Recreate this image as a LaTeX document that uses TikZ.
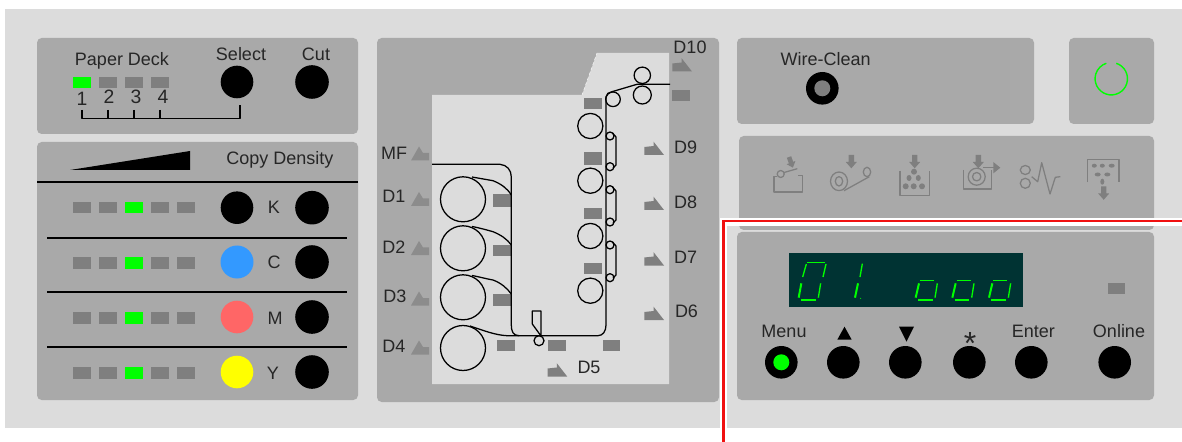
\documentclass[tikz,border=0pt]{standalone}
\usepackage{fontspec}
\setmainfont{Liberation Sans}
\definecolor{bgray}{HTML}{DCDCDC}
\definecolor{panelgray}{HTML}{A9A9A9}
\definecolor{dgray}{HTML}{7F7F7F}
\definecolor{lgray}{HTML}{8C8C8C}
\definecolor{ledgreen}{HTML}{00FF00}
\definecolor{dispbg}{HTML}{003333}
\definecolor{kblue}{HTML}{3399FF}
\definecolor{kred}{HTML}{FF6666}
\definecolor{kyellow}{HTML}{FFFF00}
\definecolor{frame}{HTML}{F01010}
\newcommand\ledbox[3][dgray]{\fill[#1] (#2,#3) rectangle ++(18,11.5);}
\newcommand\senbox[4]{\fill[dgray] (#1,#2) rectangle (#3,#4);}
\newcommand\btn[4][black]{\fill[#1] (#2,#3) circle (#4);}
\newcommand\dnarr[2]{\fill[dgray] (#1-2.7,#2) -- ++(5.4,0) -- ++(0,7) -- ++(2.8,0) -- ++(-5.5,6.3) -- ++(-5.5,-6.3) -- ++(2.8,0) -- cycle;}
\newcommand\lefttri[2]{\fill[lgray] (#1,#2) -- ++(8,-14) -- ++(4,6.5) -- ++(6,0) -- ++(0,7.5) -- cycle;}
\newcommand\righttri[2]{\fill[dgray] (#1,#2) -- ++(19.7,0) -- ++(-10.4,-13.3) -- ++(0,4.3) -- ++(-9.3,1) -- cycle;}
\tikzset{
  x=0.75pt,y=-0.75pt,
  panel/.style={fill=panelgray,rounded corners=3.5pt},
  lbl/.style={inner sep=0pt,anchor=base,font=\fontsize{13.5}{16}\selectfont,text=black!85},
  numlbl/.style={lbl,font=\fontsize{14.5}{16}\selectfont},
  wire/.style={draw=black,line width=0.95pt,line join=round},
  thin1/.style={draw=black,line width=0.8pt,line join=round},
  rule/.style={draw=black,line width=1.05pt},
  iconl/.style={draw=dgray,line width=0.95pt,line join=round},
  segU/.style={draw=ledgreen,line width=1pt},
  segL/.style={draw=ledgreen,line width=1.5pt},
}
\begin{document}
\begin{tikzpicture}
\useasboundingbox (0,0) rectangle (1182,442);
\fill[white] (0,0) rectangle (1182,442);
\fill[bgray] (5,9) rectangle (1182,428);
% panels
\path[panel] (37,38) rectangle (358,134);
\path[panel] (37,142) rectangle (358,400);
\path[panel] (377,38) rectangle (719,402);
\path[panel] (737,38) rectangle (1034,124);
\path[panel] (1069,38) rectangle (1154,124);
\path[panel] (739,136) rectangle (1154,230);
\path[panel] (737,232) rectangle (1154,400);
% frame of the highlighted area
\fill[white] (720,218) rectangle (1182,226);
\fill[white] (720,218) rectangle (727,442);
\coordinate (frameA) at (1182,221);
\coordinate (frameB) at (723.3,221);
\coordinate (frameC) at (723.3,442);
\draw[frame,line width=1.9pt,line join=miter] (frameA) -- (frameB) -- (frameC);

% Paper deck
\node[lbl] (paperdeck) at (122,66) {Paper Deck};
\node[lbl] (select) at (241,61) {Select};
\node[lbl] (cut) at (316,61) {Cut};
\ledbox[ledgreen]{73}{77}\ledbox{99}{77}\ledbox{125}{77}\ledbox{151}{77}
\node[numlbl] (n1) at (82,105.3) {1};
\node[numlbl] (n2) at (109,103.3) {2};
\node[numlbl] (n3) at (136,103.3) {3};
\node[numlbl] (n4) at (163,103.3) {4};
\btn{237}{82}{16.3}
\btn{312}{82}{16.8}
\coordinate (br1) at (82,110);
\coordinate (br2) at (108,110);
\coordinate (br3) at (134,110);
\coordinate (br4) at (160,110);
\coordinate (br5) at (240,105);
\draw[thin1] (br1) -- (82,118.5) -- (240,118.5) -- (br5);
\draw[thin1] (br2) -- (108,118.5) (br3) -- (134,118.5) (br4) -- (160,118.5);

% Copy density
\fill[black] (70,170) -- (190,151) -- (190,170) -- cycle;
\node[lbl] (copydensity) at (280,165) {Copy Density};
\draw[rule] (37,182) -- (358,182);
\draw[rule] (47,238) -- (347,238);
\draw[rule] (47,292) -- (347,292);
\draw[rule] (47,347) -- (347,347);
\foreach \y in {202,257,312,367}{
  \ledbox{73}{\y}\ledbox{99}{\y}\ledbox[ledgreen]{125}{\y}\ledbox{151}{\y}\ledbox{177}{\y}
}
\btn{237}{207.7}{16.3}\btn{312}{207.7}{16.8}
\btn[kblue]{237}{262}{16.5}\btn{312}{262}{16.8}
\btn[kred]{237}{317}{16.3}\btn{312}{317}{16.8}
\btn[kyellow]{237}{372}{16.3}\btn{312}{372}{16.8}
\node[lbl] (kk) at (274,214) {K};
\node[lbl] (kc) at (274,268) {C};
\node[lbl] (km) at (275,324) {M};
\node[lbl] (ky) at (273,379) {Y};

% Paper path body
\fill[bgray] (432,95) -- (582,95) -- (597,53) -- (669,53) -- (669,384) -- (432,384) -- cycle;
\draw[white,line width=0.3pt,dash pattern=on 2pt off 2pt] (582,95) -- (597,53);
\senbox{672.3}{90.3}{690}{101.3}
\senbox{584}{98.3}{602}{109.3}
\senbox{584}{152.3}{602}{165}
\senbox{584}{207.7}{602}{219}
\senbox{584}{263.3}{602}{274.3}
\senbox{492.7}{194.3}{511}{207.3}
\senbox{492.7}{245}{511}{256.3}
\senbox{492.7}{294}{511}{305.7}
\senbox{497.3}{340}{515.3}{351.3}
\senbox{548}{340}{566}{351.3}
\senbox{603.3}{340}{620}{351.3}
\foreach \y in {199.3,248.3,297.3,348}{\draw[wire] (463,\y) circle (22.5);}
\foreach \y in {126,180.7,236,290.7}{\draw[wire] (590.3,\y) circle (12.6);}
\foreach \y in {136,166.7,189.7,222,245,277.7}{\draw[wire] (610,\y) circle (4);}
\draw[wire] (642.3,75.3) circle (8.2);
\draw[wire] (642.3,95) circle (9);
\draw[wire] (613,99.3) circle (7.3);
\draw[wire] (539,340.7) circle (5);
\draw[wire] (432,164.3) -- (500,164.3) .. controls (507,165) and (511.3,170) .. (511.3,177) -- (511.3,325) .. controls (511.3,331) and (513,335.7) .. (519,335.7) -- (598,335.7) .. controls (603,335.7) and (606,331) .. (606,325) -- (606,97) .. controls (606,94) and (609,92) .. (612,91.7) -- (637,84.3) -- (670,84.3);
\draw[wire] (472,177) -- (493,180.7) .. controls (501,184) and (507,188) .. (511.3,195);
\draw[wire] (472,226.5) .. controls (480,228) and (487,230) .. (493,231.7) .. controls (501,235) and (507,239) .. (511.3,245);
\draw[wire] (472,275.5) .. controls (480,277) and (487,279) .. (493,280) .. controls (501,283) and (507,288) .. (511.3,294);
\draw[wire] (470,326) .. controls (485,331) and (495,335) .. (507,335.7) -- (519,335.7);
\draw[wire] (532.3,311) -- (541,311) -- (541,336) -- (532.3,324) -- cycle;
\draw[wire] (612.5,133) -- (616,137) -- (616,165) -- (613,168);
\draw[wire] (612.5,187) -- (616,191) -- (616,220) -- (613,223);
\draw[wire] (612.5,242) -- (616,246) -- (616,275) -- (613,278);
% direction marks
\lefttri{411}{160.5}\lefttri{411}{206}\lefttri{411}{255}\lefttri{411}{305.5}\lefttri{411}{354.5}
\righttri{644.3}{155}\righttri{644.3}{210}\righttri{644.3}{265.5}\righttri{644.3}{320}\righttri{672.3}{71.5}\righttri{547.5}{376.5}
\node[lbl] (mf) at (394,159.3) {MF};
\node[lbl] (d1) at (394,202.7) {D1};
\node[lbl] (d2) at (394,253.3) {D2};
\node[lbl] (d3) at (395,302) {D3};
\node[lbl] (d4) at (394,352.7) {D4};
\node[lbl] (d5) at (589,373) {D5};
\node[lbl] (d6) at (686.5,317.3) {D6};
\node[lbl] (d7) at (685.7,263.3) {D7};
\node[lbl] (d8) at (685.7,208.3) {D8};
\node[lbl] (d9) at (685.7,154) {D9};
\node[lbl] (d10) at (690,54) {D10};

% Wire clean and power
\node[lbl] (wireclean) at (825.7,66) {Wire-Clean};
\btn{822.3}{88.3}{16.3}
\btn[dgray]{822.3}{88.3}{8}
\draw[ledgreen,line width=1.05pt] (1116.3,63.3) arc[start angle=-72,end angle=252,radius=16.2];

% Status icons
\draw[iconl] (776.7,176.7) -- (774,176.7) -- (774,192) -- (802.3,192) -- (802.3,175.3) -- (798.3,175.3);
\draw[iconl] (780.7,174) circle (3.5);
\draw[iconl] (784,172.5) -- (797.3,168.7);
\begin{scope}[shift={(789,157)},rotate=20,scale=0.85]\dnarr{0}{0}\end{scope}
\dnarr{851.3}{155}
\draw[iconl] (839,181.3) ellipse (8.5 and 9.3);
\draw[iconl] (839,181.3) ellipse (3.7 and 4.7);
\draw[iconl] (867,172) ellipse (3.7 and 4.7);
\draw[iconl] (844,190.7) -- (869.3,176.7);
\dnarr{914.7}{155}
\draw[iconl] (900,170.7) -- (900,195.3) -- (929.3,195.3) -- (929.3,170.7);
\fill[dgray] (914,171.7) circle (3);
\fill[dgray] (909,178) ellipse (2.5 and 3);
\fill[dgray] (918.3,178) ellipse (2.5 and 3);
\fill[dgray] (905.7,186.3) circle (3);
\fill[dgray] (913.7,186.3) circle (3);
\fill[dgray] (922,186.3) circle (3);
\draw[iconl] (963.3,170) -- (963.3,189) -- (991.7,189) -- (991.7,170);
\draw[iconl] (976.7,176.7) circle (8.5);
\draw[iconl] (976.7,176.7) circle (4.2);
\draw[iconl,line width=1.1pt] (983,167.7) -- (994,167.7);
\fill[dgray] (993.3,162) -- (1000.3,167.7) -- (993.3,173.4) -- cycle;
\dnarr{978.3}{155}
\draw[iconl] (1025.3,170) ellipse (5 and 4.5);
\draw[iconl] (1025.3,183.3) ellipse (5 and 5);
\draw[iconl] (1031.7,176.7) -- (1037.7,181.7) -- (1041.7,162.7) -- (1050,194) -- (1055.3,177.3) -- (1060.3,176.7);
\draw[iconl] (1087.3,182.3) -- (1087.3,159.3) -- (1119,159.3) -- (1119,182.3);
\fill[dgray] (1094.3,165.7) ellipse (2.5 and 2);
\fill[dgray] (1102.3,165.7) ellipse (2.5 and 2);
\fill[dgray] (1111.7,165.7) ellipse (3 and 2);
\fill[dgray] (1097.7,174.5) ellipse (3 and 2);
\fill[dgray] (1107.3,174.5) ellipse (3 and 2);
\fill[dgray] (1102.3,181.7) ellipse (2 and 3);
\dnarr{1103.7}{186.5}

% Display
\fill[dispbg] (789.3,253) rectangle (1023,307);
\begin{scope}[shift={(720,215)},x=0.25pt,y=-0.25pt]
  % big 0
  \draw[segU] (262,142) -- (314,142);
  \draw[segU] (259,147) -- (248,186);
  \draw[segU] (318,147) -- (309,186);
  \draw[segL] (244,205) -- (236,248);
  \draw[segU] (302,205) -- (295,248);
  \draw[segL] (243,254) -- (288,254);
  % 1
  \draw[segU] (427,146) -- (420,186);
  \draw[segL] (414,205) -- (405,248);
  \fill[ledgreen] (422,250) circle (1.6);
  % small zeros
  \foreach \dx in {0,110,220}{
    \begin{scope}[xshift=\dx*0.25pt]
      \draw[segU] (600,196) -- (642,196);
      \draw[segL] (597,205) -- (587,248);
      \draw[segU] (652,205) -- (645,248);
      \draw[segL] (594,254) -- (638,254);
    \end{scope}
  }
\end{scope}
\fill[dgray] (1108,282.7) rectangle (1124.7,294.3);

% Keys
\node[lbl] (menu) at (784,337.7) {Menu};
\fill[black] (837.3,339.7) -- (851.7,339.7) -- (844.5,326.7) -- cycle;
\fill[black] (899,326.7) -- (914,326.7) -- (906.5,341.7) -- cycle;
\node[lbl,font=\fontsize{24}{26}\selectfont] (star) at (970,354) {*};
\node[lbl] (enter) at (1033.3,337.7) {Enter};
\node[lbl] (online) at (1119,337.7) {Online};
\btn{781.3}{362.3}{16.3}
\btn[ledgreen]{781.3}{362.3}{8}
\btn{843.3}{362.3}{16.3}
\btn{905.3}{362.3}{16.3}
\btn{969.3}{362.3}{16.3}
\btn{1031.3}{362.3}{16.3}
\btn{1114.7}{362.3}{16.3}
\end{tikzpicture}
\end{document}
